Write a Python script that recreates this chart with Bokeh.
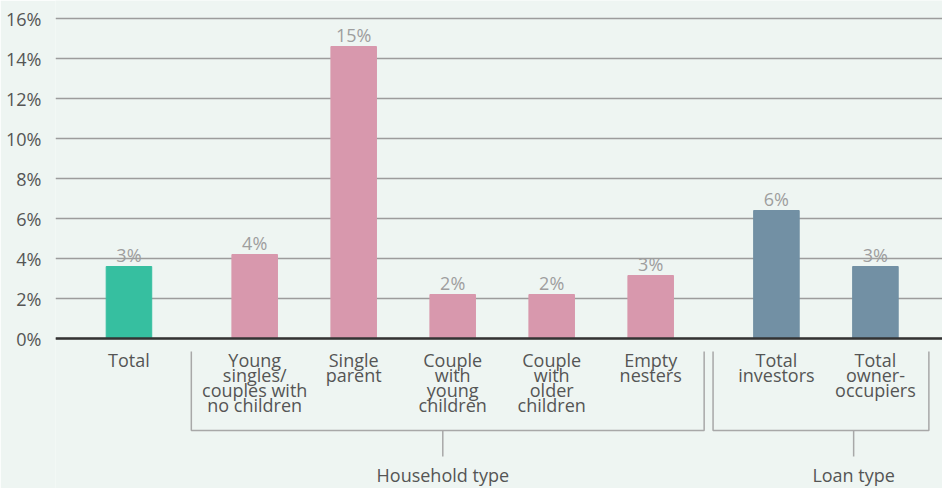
from bokeh.plotting import figure
from bokeh.models import ColumnDataSource, Range1d, FixedTicker, PrintfTickFormatter, Span
from bokeh.core.properties import value
from bokeh.embed import file_html
from bokeh.resources import INLINE

# ---------------- data ----------------
categories = [
    "Total",
    "Young\nsingles/\ncouples with\nno children",
    "Single\nparent",
    "Couple\nwith\nyoung\nchildren",
    "Couple\nwith\nolder\nchildren",
    "Empty\nnesters",
    "Total\ninvestors",
    "Total\nowner-\noccupiers",
]
category_groups = ["", "Household type", "Household type", "Household type",
                   "Household type", "Household type", "Loan type", "Loan type"]
shares = [3.6, 4.2, 14.6, 2.2, 2.2, 3.15, 6.4, 3.6]
share_labels = ["3%", "4%", "15%", "2%", "2%", "3%", "6%", "3%"]
group_names = ["Household type", "Loan type"]
y_ticks = [0, 2, 4, 6, 8, 10, 12, 14, 16]

# ---------------- styles / layout ----------------
FONT = "Open Sans"
FS = "18px"
BG = "#EEF5F2"
GROUP_COLORS = {"": "#36BFA0", "Household type": "#D898AD", "Loan type": "#7290A4"}
TEXT_COLOR = "#555555"
VALUE_COLOR = "#9E9E9E"
GRID_COLOR = "#9C9C9C"
BRACKET_COLOR = "#A8A8A8"
GAP = 0.27            # extra spacing between groups (category units)
BAR_WIDTH = 0.46
PX_PER_UNIT = 99.0
PX_PER_PCT = 20.0
LEFT_BORDER = 55
FIG_W, FIG_H = 942, 488
X_START = -0.742
Y_END = 16.9
CAT_LABEL_Y = -0.45
LINE_STEP = 0.75      # 15 px between label lines
VALUE_GAP = 1.2       # label box top above bar top (in % units)
BRACKET_TOP, BRACKET_BOTTOM, STEM_BOTTOM, GROUP_LABEL_Y = -0.65, -4.6, -5.9, -6.23
BRACKET_PAD_L, BRACKET_PAD_R = 0.64, 0.54
STEM_SHIFT = {"Household type": -0.1, "Loan type": 0.28}

# positions computed from category order and group changes
positions = []
shift = 0.0
for i, g in enumerate(category_groups):
    if i > 0 and g != category_groups[i - 1]:
        shift += GAP
    positions.append(i + shift)

src = ColumnDataSource(dict(
    x=positions, top=shares, lbl=share_labels,
    lbl_y=[s + VALUE_GAP for s in shares],
    color=[GROUP_COLORS[g] for g in category_groups],
))

# one row per label line
lx, ly, lt = [], [], []
for x, cat in zip(positions, categories):
    for k, line in enumerate(cat.split("\n")):
        lx.append(x)
        ly.append(CAT_LABEL_Y - k * LINE_STEP)
        lt.append(line)
lines_src = ColumnDataSource(dict(x=lx, y=ly, t=lt))

x_end = X_START + (FIG_W - LEFT_BORDER) / PX_PER_UNIT
y_start = Y_END - FIG_H / PX_PER_PCT
p = figure(width=FIG_W, height=FIG_H, x_range=Range1d(X_START, x_end),
           y_range=Range1d(y_start, Y_END), output_backend="svg",
           toolbar_location=None, x_axis_location=None,
           min_border_left=LEFT_BORDER, min_border_right=0,
           min_border_top=0, min_border_bottom=0,
           background_fill_color=BG, border_fill_color=BG,
           outline_line_color=None)

ax = p.yaxis[0]
ax.ticker = FixedTicker(ticks=y_ticks)
ax.formatter = PrintfTickFormatter(format="%d%%")
ax.axis_line_color = None
ax.major_tick_line_color = None
ax.minor_tick_line_color = None
ax.major_tick_out = 0
ax.major_tick_in = 0
ax.major_label_standoff = 14
ax.major_label_text_font_size = FS
ax.major_label_text_font = FONT
ax.major_label_text_color = TEXT_COLOR

p.xgrid.visible = False
p.ygrid.ticker = FixedTicker(ticks=y_ticks)
p.ygrid.grid_line_color = GRID_COLOR
p.ygrid.grid_line_width = 1.5

p.vbar(x="x", top="top", width=BAR_WIDTH, color="color", source=src)
p.add_layout(Span(location=0, dimension="width", line_color="#333333", line_width=2.5))

p.text(x="x", y="lbl_y", text="lbl", source=src, text_align="center",
       text_baseline="top", text_font_size=FS,
       text_color=VALUE_COLOR, text_font=value(FONT))

p.text(x="x", y="y", text="t", source=lines_src, text_align="center",
       text_baseline="top", text_font_size=FS,
       text_color=TEXT_COLOR, text_font=value(FONT))

for g in group_names:
    xs_g = [x for x, gg in zip(positions, category_groups) if gg == g]
    left, right = min(xs_g) - BRACKET_PAD_L, max(xs_g) + BRACKET_PAD_R
    stem = (min(xs_g) + max(xs_g)) / 2 + STEM_SHIFT[g]
    p.multi_line(xs=[[left, left, right, right], [stem, stem]],
                 ys=[[BRACKET_TOP, BRACKET_BOTTOM, BRACKET_BOTTOM, BRACKET_TOP],
                     [BRACKET_BOTTOM, STEM_BOTTOM]],
                 line_color=BRACKET_COLOR, line_width=1.5)
    p.text(x=[stem], y=[GROUP_LABEL_Y], text=[g], text_align="center",
           text_baseline="top", text_font_size=FS,
           text_color=TEXT_COLOR, text_font=value(FONT))

open("out.html", "w").write(file_html(p, INLINE))
